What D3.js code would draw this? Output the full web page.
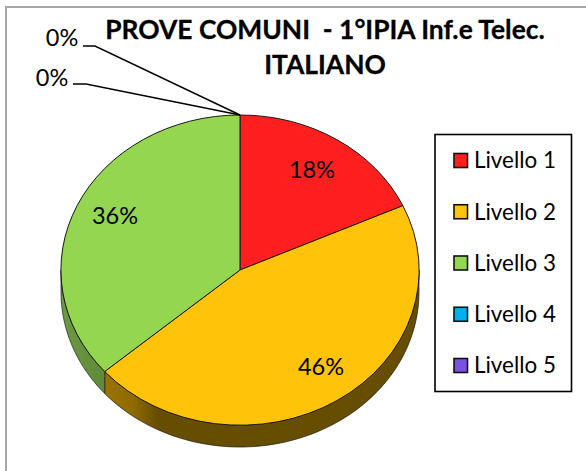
<!DOCTYPE html>
<html><head><meta charset="utf-8">
<script src="https://cdn.jsdelivr.net/npm/d3@7"></script>
<style>html,body{margin:0;padding:0;background:#fff;overflow:hidden}svg{display:block}text{font-family:Lato,"Open Sans",sans-serif;fill:#000}</style>
</head><body><svg id="c" width="586" height="471"></svg>
<script>
const categories = ["Livello 1","Livello 2","Livello 3","Livello 4","Livello 5"];
const values = [18.18,45.45,36.36,0,0];
const labels = ["18%","46%","36%","0%","0%"];
const colors = ["#ff1f1f","#ffc30a","#94d650","#00b0f0","#7a52e0"];
const titleLines = ["PROVE COMUNI  - 1°IPIA Inf.e Telec.","ITALIANO"];

const cx=240, cy=270, rx=179, ry=155, depth=22;
const svg=d3.select("#c");
const defs=svg.append("defs");

svg.append("rect").attr("x",6).attr("y",7).attr("width",640).attr("height",540)
  .attr("fill","#fff").attr("stroke","#a6a6a6").attr("stroke-width",2);

const slices=d3.pie().sort(null)(values);
const px=a=>cx+rx*Math.sin(a), py=a=>cy-ry*Math.cos(a);

function gradient(id,stops){
  const g=defs.append("linearGradient").attr("id",id).attr("gradientUnits","userSpaceOnUse")
    .attr("x1",cx-rx).attr("x2",cx+rx).attr("y1",0).attr("y2",0);
  stops.forEach(s=>g.append("stop").attr("offset",s[0]).attr("stop-color",s[1]));
}
gradient("wall1",[[0.12,"#9a7300"],[0.2,"#8f6b00"],[0.27,"#664d00"],[1,"#664d00"]]);
gradient("wall2",[[0,"#6d9a42"],[0.12,"#5f8a38"]]);
const wallFill=["#8f1010","url(#wall1)","url(#wall2)","#006a90","#4a3288"];

slices.forEach((s,i)=>{
  const a0=Math.max(s.startAngle,Math.PI/2), a1=Math.min(s.endAngle,3*Math.PI/2);
  if(a1<=a0) return;
  const p=d3.path();
  const n=80;
  d3.range(n+1).forEach(k=>{const a=a0+(a1-a0)*k/n; k?p.lineTo(px(a),py(a)):p.moveTo(px(a),py(a));});
  d3.range(n,-1,-1).forEach(k=>{const a=a0+(a1-a0)*k/n; p.lineTo(px(a),py(a)+depth);});
  p.closePath();
  svg.append("path").attr("d",p.toString()).attr("fill",wallFill[i])
    .attr("stroke","#1a1a1a").attr("stroke-width",0.7).attr("stroke-linejoin","round");
});

const arc=d3.arc().innerRadius(0).outerRadius(1);
slices.forEach((s,i)=>{
  if(s.endAngle<=s.startAngle) return;
  svg.append("path").attr("d",arc(s))
    .attr("transform",`translate(${cx},${cy}) scale(${rx},${ry})`)
    .attr("fill",colors[i]).attr("stroke","#1a1a1a").attr("stroke-width",1)
    .attr("vector-effect","non-scaling-stroke");
});

const labelPos=[[312,170],[321,367],[115,216],[62,38],[52,78]];
labels.forEach((t,i)=>{
  svg.append("text").attr("x",labelPos[i][0]).attr("y",labelPos[i][1]).attr("dy","0.35em")
    .attr("text-anchor","middle").attr("font-size",23.5).text(t);
});
const lead=[[[83,46],[95,46],[240,115]],[[73,84],[86,84],[240,115]]];
lead.forEach(l=>{
  svg.append("path").attr("d",d3.line()(l)).attr("fill","none").attr("stroke","#000").attr("stroke-width",1.4);
});

titleLines.forEach((t,i)=>{
  svg.append("text").attr("x",325).attr("y",39+i*35).attr("text-anchor","middle")
    .attr("font-size",26.4).attr("font-weight",700).attr("stroke","#000").attr("stroke-width",0.3)
    .style("white-space","pre").text(t);
});

svg.append("rect").attr("x",435).attr("y",134.5).attr("width",136.5).attr("height",257)
  .attr("fill","#fff").attr("stroke","#000").attr("stroke-width",1.6);
const ly=d3.scalePoint().domain(categories).range([160.5,365.5]);
categories.forEach((c,i)=>{
  svg.append("rect").attr("x",454).attr("y",ly(c)-7).attr("width",13.5).attr("height",14)
    .attr("fill",colors[i]).attr("stroke","#111").attr("stroke-width",1.6);
  svg.append("text").attr("x",474).attr("y",ly(c)).attr("dy","0.35em").attr("font-size",22.4).text(c);
});
</script></body></html>
